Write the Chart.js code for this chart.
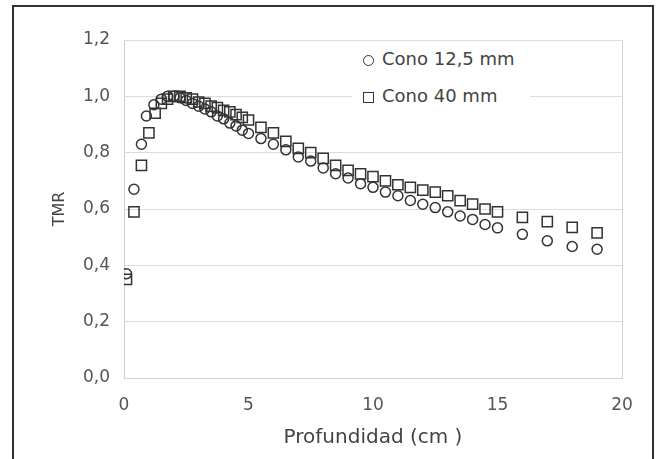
<!DOCTYPE html>
<html>
<head>
  <meta charset="utf-8">
  <title>TMR</title>
  <script src="https://cdn.jsdelivr.net/npm/chart.js@4.4.0/dist/chart.umd.min.js"></script>
  <style>
  body {
    margin: 0;
    background: #fff;
  }
  #wrap {
    position: relative;
    width: 661px;
    height: 459px;
    overflow: hidden;
  }
  #frame {
    position: absolute;
    left: 12px;
    top: 5px;
    width: 638px;
    height: 480px;
    border: 2px solid #333;
  }
  #tmrChart {
    position: absolute;
    left: 0;
    top: 0;
  }
  #legend {
    position: absolute;
    left: 352px;
    top: 44px;
    width: 178px;
    height: 66px;
    background: #fff;
    font-family: 'DejaVu Sans', sans-serif;
    font-size: 18px;
    color: #444;
  }
  #legend .row {
    position: absolute;
    left: 11px;
    height: 22px;
    line-height: 22px;
    white-space: nowrap;
  }
  #legend .mk {
    display: inline-block;
    width: 9px;
    height: 9px;
    border: 1.5px solid #333;
    margin-right: 8px;
    vertical-align: -1px;
  }
  #legend .circ { border-radius: 50%; }
  </style>
</head>
<body>
  <div id="wrap">
    <div id="frame"></div>
    <canvas id="tmrChart" width="661" height="459"></canvas>
    <div id="legend">
      <div class="row" style="top: 4px;"><span class="mk circ"></span>Cono 12,5 mm</div>
      <div class="row" style="top: 41px;"><span class="mk"></span>Cono 40 mm</div>
    </div>
  </div>

  <script>
    // profundidad (cm) y TMR
    const depth125 = [0.1, 0.4, 0.7, 0.9, 1.2, 1.5, 1.75, 2, 2.25, 2.5, 2.75, 3, 3.25, 3.5, 3.75, 4, 4.25, 4.5, 4.75, 5,
      5.5, 6, 6.5, 7, 7.5, 8, 8.5, 9, 9.5, 10, 10.5, 11, 11.5, 12, 12.5, 13, 13.5, 14, 14.5, 15, 16, 17, 18, 19];
    const tmr125 = [0.37, 0.67, 0.83, 0.93, 0.97, 0.99, 1.0, 1.0, 0.995, 0.985, 0.975, 0.965, 0.955, 0.945, 0.93, 0.92, 0.905, 0.895, 0.88, 0.868,
      0.85, 0.83, 0.81, 0.785, 0.77, 0.746, 0.725, 0.71, 0.69, 0.677, 0.66, 0.647, 0.63, 0.617, 0.605, 0.59, 0.575, 0.563, 0.545, 0.533, 0.51, 0.487, 0.467, 0.457];

    const depth40 = [0.1, 0.4, 0.7, 1.0, 1.25, 1.5, 1.75, 2, 2.25, 2.5, 2.75, 3, 3.25, 3.5, 3.75, 4, 4.25, 4.5, 4.75, 5,
      5.5, 6, 6.5, 7, 7.5, 8, 8.5, 9, 9.5, 10, 10.5, 11, 11.5, 12, 12.5, 13, 13.5, 14, 14.5, 15, 16, 17, 18, 19];
    const tmr40 = [0.35, 0.59, 0.755, 0.87, 0.94, 0.975, 0.99, 1.0, 1.0, 0.995, 0.99, 0.98, 0.975, 0.965, 0.96, 0.95, 0.945, 0.935, 0.925, 0.916,
      0.89, 0.87, 0.84, 0.815, 0.80, 0.78, 0.755, 0.737, 0.725, 0.715, 0.70, 0.686, 0.677, 0.667, 0.66, 0.647, 0.63, 0.617, 0.60, 0.59, 0.57, 0.555, 0.535, 0.515];

    const yTickLabels = ['0,0', '0,2', '0,4', '0,6', '0,8', '1,0', '1,2'];
    const xTickLabels = ['0', '5', '10', '15', '20'];

    function toPoints(xs, ys) {
      return xs.map((x, i) => ({ x: x, y: ys[i] }));
    }

    Chart.defaults.font.family = "'DejaVu Sans', sans-serif";
    Chart.defaults.font.size = 17;
    Chart.defaults.color = '#555';

    const ctx = document.getElementById('tmrChart').getContext('2d');
    new Chart(ctx, {
      type: 'scatter',
      data: {
        datasets: [{
          label: 'Cono 12,5 mm',
          data: toPoints(depth125, tmr125),
          pointStyle: 'circle',
          pointRadius: 5,
          borderColor: '#333',
          backgroundColor: 'rgba(0,0,0,0)',
          borderWidth: 1.5
        },
        {
          label: 'Cono 40 mm',
          data: toPoints(depth40, tmr40),
          pointStyle: 'rect',
          pointRadius: 7.2,
          borderColor: '#333',
          backgroundColor: 'rgba(0,0,0,0)',
          borderWidth: 1.5
        }]
      },
      options: {
        responsive: false,
        animation: false,
        events: [],
        layout: {
          padding: { left: 0, right: 39, top: 40, bottom: 0 }
        },
        plugins: {
          legend: { display: false },
          tooltip: { enabled: false }
        },
        scales: {
          x: {
            type: 'linear',
            min: 0,
            max: 20,
            afterFit: s => { s.height = 81; },
            ticks: {
              stepSize: 5,
              padding: 17,
              callback: (v, i) => xTickLabels[i]
            },
            grid: {
              drawTicks: false,
              color: c => (c.tick && c.tick.value === 20) ? '#d6d6d6' : 'rgba(0,0,0,0)'
            },
            border: { color: '#d0d0d0' },
            title: {
              display: true,
              text: 'Profundidad (cm )',
              color: '#444',
              font: { size: 20 },
              padding: { top: 0, bottom: 9 }
            }
          },
          y: {
            min: 0,
            max: 1.2,
            afterFit: s => { s.width = 124; },
            ticks: {
              stepSize: 0.2,
              padding: 14,
              callback: (v, i) => yTickLabels[i]
            },
            grid: {
              drawTicks: false,
              color: '#dcdcdc'
            },
            border: { color: '#d0d0d0' },
            title: {
              display: true,
              text: 'TMR',
              color: '#444',
              font: { size: 16 },
              padding: { top: 50, bottom: 0 }
            }
          }
        }
      }
    });
  </script>
</body>
</html>
